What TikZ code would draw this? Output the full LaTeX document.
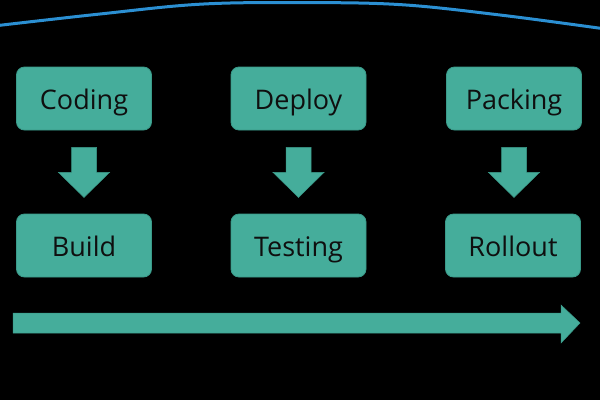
\documentclass[tikz,border=0pt]{standalone}
\usepackage{fontspec}
\setmainfont{Open Sans}
\definecolor{teal1}{HTML}{45AD9B}
\definecolor{teal2}{HTML}{3A9A89}
\definecolor{arcblue}{HTML}{2B8FD2}
\definecolor{txt}{HTML}{0F0F0F}
\tikzset{
  stagebox/.style={draw=teal2, line width=0.8pt, fill=teal1, rounded corners=8pt,
    minimum width=135pt, minimum height=63pt, inner sep=0pt,
    font=\fontsize{27}{30}\selectfont, text=txt, text height=21pt, text depth=0pt},
  downarrow/.style={fill=teal1, draw=teal2, line width=0.5pt},
}
\begin{document}
\begin{tikzpicture}[x=1pt,y=-1pt]
  \fill[black] (0,0) rectangle (600,400);
  \useasboundingbox (0,0) rectangle (600,400);
  \draw[arcblue, line width=3pt] plot[smooth, tension=0.6] coordinates {(-2,25.5) (100,14) (200,4.2) (300,2.6) (400,4.6) (500,15) (602,28.5)};

  \node[stagebox] (coding)  at (84,98.5)  {Coding};
  \node[stagebox] (deploy)  at (298.5,98.5) {Deploy};
  \node[stagebox] (packing) at (514,98.5) {Packing};
  \node[stagebox] (build)   at (84,245.5) {Build};
  \node[stagebox] (testing) at (298.5,245.5) {Testing};
  \node[stagebox] (rollout) at (513,245.5) {Rollout};

  \foreach \a in {coding, deploy, packing}{
    \path (\a.south) ++(0,17) coordinate (\a-top);
    \draw[downarrow] (\a-top) ++(-12.5,0) -- ++(25,0) -- ++(0,25) -- ++(13,0)
      -- ++(-25.5,25) -- ++(-25.5,-25) -- ++(13,0) -- cycle;
  }

  \coordinate (tstart) at (13,323);
  \coordinate (ttip) at (580,323);
  \draw[downarrow] (tstart) ++(0,-10) -- ++(548,0) -- ++(0,-8) -- (ttip)
     -- ++(-19,20) -- ++(0,-10) -- ++(-548,0) -- cycle;
\end{tikzpicture}
\end{document}
